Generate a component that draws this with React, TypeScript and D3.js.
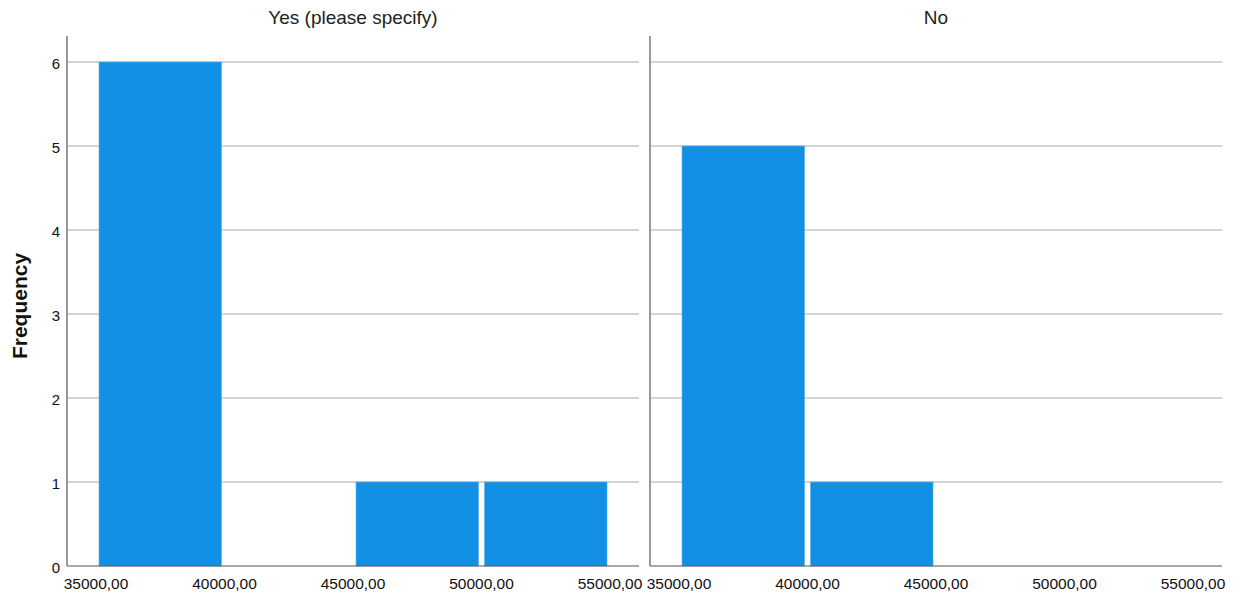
import React from "react";
import * as d3 from "d3";

const binStarts = [35000, 40000, 45000, 50000];
const binWidth = 5000;
const yesCounts = [6, 0, 1, 1];
const noCounts = [5, 1, 0, 0];
const panelTitles = ["Yes (please specify)", "No"];
const xTicks = [35000, 40000, 45000, 50000, 55000];
const yTicks = [0, 1, 2, 3, 4, 5, 6];

const W = 1234;
const H = 596;
const panelX0 = [67, 650];
const panelW = 572;
const yTop = 36;
const yBottom = 566;
const barColor = "#1290e6";
const FONT = "'Liberation Sans', Arial, sans-serif";

const yScale = d3.scaleLinear().domain([0, 6]).range([yBottom, 62]);
const fmt = (v: number) => d3.format(".2f")(v).replace(".", ",");

function Panel({ x0, counts, title, showY }: { x0: number; counts: number[]; title: string; showY: boolean }) {
  const xScale = d3.scaleLinear().domain([35000, 55000]).range([x0 + 29, x0 + 543]);
  return (
    <g>
      <text x={x0 + panelW / 2} y={24} textAnchor="middle" fontFamily={FONT} fontSize={19} fill="#222">
        {title}
      </text>
      {yTicks.filter((t) => t > 0).map((t) => (
        <line key={t} x1={x0 + 1} x2={x0 + panelW} y1={yScale(t)} y2={yScale(t)} stroke="#c4c4c4" strokeWidth={1.5} />
      ))}
      {counts.map((c, i) =>
        c > 0 ? (
          <rect
            key={i}
            x={xScale(binStarts[i]) + 3}
            y={yScale(c)}
            width={xScale(binStarts[i] + binWidth) - xScale(binStarts[i]) - 6}
            height={yScale(0) - yScale(c)}
            fill={barColor}
            stroke="#5aaeea"
            strokeWidth={0.6}
          />
        ) : null
      )}
      <line x1={x0} x2={x0} y1={yTop} y2={yBottom} stroke="#555" strokeWidth={1.2} />
      <line x1={x0} x2={x0 + panelW} y1={yBottom} y2={yBottom} stroke="#555" strokeWidth={1.2} />
      {xTicks.map((t) => (
        <text key={t} x={xScale(t)} y={589} textAnchor="middle" fontFamily={FONT} fontSize={15.5} fill="#111">
          {fmt(t)}
        </text>
      ))}
      {showY &&
        yTicks.map((t) => (
          <text key={t} x={60} y={yScale(t) + 7} textAnchor="end" fontFamily={FONT} fontSize={15} fill="#111">
            {t}
          </text>
        ))}
    </g>
  );
}

export default function App() {
  return (
    <svg width={W} height={H} style={{ position: "absolute", left: 0, top: 0, background: "#fff" }}>
      <rect width={W} height={H} fill="#fff" />
      <text
        transform={`translate(27, 306) rotate(-90)`}
        textAnchor="middle"
        fontFamily={FONT}
        fontWeight="bold"
        fontSize={21}
        fill="#111"
      >
        Frequency
      </text>
      <Panel x0={panelX0[0]} counts={yesCounts} title={panelTitles[0]} showY={true} />
      <Panel x0={panelX0[1]} counts={noCounts} title={panelTitles[1]} showY={false} />
    </svg>
  );
}
